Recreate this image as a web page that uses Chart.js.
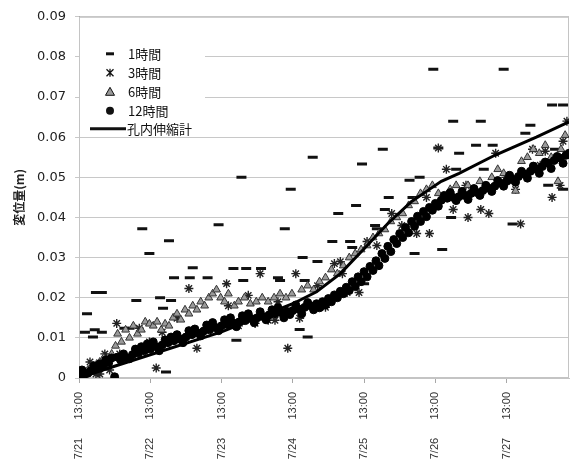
<!DOCTYPE html>
<html>
<head>
<meta charset="utf-8">
<script src="https://cdn.jsdelivr.net/npm/chart.js"></script>
<style>
  html, body { margin: 0; padding: 0; background: #fff; overflow: hidden; }
</style>
</head>
<body>
<canvas id="myChart" width="577" height="470"></canvas>
<script>
// hours counted from 7/21 13:00
const tickHours = [0, 24, 48, 72, 96, 120, 144];
const tickLabels = ['7/21      13:00', '7/22      13:00', '7/23      13:00', '7/24      13:00', '7/25      13:00', '7/26      13:00', '7/27      13:00'];
const seriesNames = ['1時間', '3時間', '6時間', '12時間', '孔内伸縮計'];

// 1時間
const h1 = [2.0, 2.7, 4.7, 5.3, 5.7, 7.7, 7.7, 15.3, 17.0, 19.3, 21.3, 23.7, 27.3, 28.3, 29.3, 30.3, 31.0, 32.0, 37.3, 38.3,
  43.3, 47.0, 52.0, 53.0, 54.7, 55.3, 56.3, 61.3, 67.0, 67.7, 69.3, 71.3, 74.3, 75.3, 76.0, 77.0, 78.7, 80.3, 85.3, 87.3,
  91.3, 92.0, 93.3, 95.3, 96.0, 99.7, 100.3, 102.3, 103.0, 104.3, 111.3, 112.3, 113.0, 114.7, 119.3, 121.0, 122.3, 125.3, 126.0, 127.0,
  128.0, 133.7, 135.3, 136.3, 139.3, 143.0, 146.0, 150.3, 152.0, 158.0, 159.3, 160.3, 163.0, 163.0];
const v1 = [0.0114, 0.016, 0.0102, 0.012, 0.0213, 0.0213, 0.0114, 0.0124, 0.0124, 0.0193, 0.0372, 0.031, 0.020, 0.0174, 0.0015, 0.0342, 0.0193, 0.025, 0.025, 0.0275,
  0.025, 0.0382, 0.0273, 0.0094, 0.050, 0.0243, 0.0273, 0.0273, 0.025, 0.0243, 0.0372, 0.047, 0.0121, 0.030, 0.0243, 0.0102, 0.055, 0.029, 0.034, 0.041,
  0.034, 0.0325, 0.043, 0.0533, 0.0235, 0.038, 0.0372, 0.057, 0.042, 0.045, 0.0493, 0.045, 0.031, 0.050, 0.0769, 0.0573, 0.032, 0.040, 0.064, 0.052,
  0.056, 0.058, 0.064, 0.052, 0.058, 0.0769, 0.0384, 0.061, 0.063, 0.048, 0.068, 0.057, 0.068, 0.047];

// 3時間
const h3 = [3.7, 4.7, 5.7, 7.0, 8.7, 9.3, 10.3, 12.7, 13.7, 20.3, 23.7, 26.0, 28.0, 33.0, 37.0, 39.7, 43.7, 49.7, 50.3, 53.7,
  57.0, 59.3, 61.0, 63.7, 66.0, 67.0, 70.3, 73.0, 74.3, 80.3, 83.0, 86.0, 88.0, 88.7, 90.3, 94.3, 97.0, 100.3, 105.3, 108.7,
  113.7, 117.0, 118.0, 121.0, 123.7, 126.0, 130.3, 131.0, 135.3, 138.0, 140.3, 143.7, 147.0, 148.7, 152.7, 155.3, 157.0, 159.3, 162.0, 163.0, 164.3];
const v3 = [0.004, 0.003, 0.001, 0.001, 0.006, 0.005, 0.002, 0.0136, 0.006, 0.0124, 0.009, 0.0025, 0.0114, 0.0149, 0.0223, 0.0074, 0.013, 0.0235, 0.018, 0.013,
  0.0206, 0.0136, 0.026, 0.0144, 0.0144, 0.019, 0.0074, 0.026, 0.0149, 0.023, 0.0176, 0.0285, 0.029, 0.026, 0.0213, 0.0213, 0.034, 0.033, 0.041, 0.038,
  0.036, 0.045, 0.036, 0.0573, 0.052, 0.042, 0.048, 0.040, 0.042, 0.041, 0.056, 0.050, 0.047, 0.0384, 0.057, 0.053, 0.0565, 0.045, 0.048, 0.059, 0.064];

// 6時間
const h6 = [1.3, 3.0, 4.3, 6.0, 7.0, 8.3, 9.7, 11.0, 12.3, 13.0, 14.3, 15.7, 17.0, 18.3, 19.7, 21.0, 22.3, 23.7, 25.0, 26.3,
  27.7, 29.0, 30.3, 31.7, 33.0, 34.3, 35.7, 37.0, 38.3, 39.7, 41.0, 42.3, 43.7, 45.0, 46.3, 47.7, 49.0, 50.3, 52.3, 53.7,
  55.7, 57.7, 59.7, 61.7, 63.7, 65.7, 67.7, 69.7, 71.7, 73.0, 75.0, 77.0, 79.0, 81.0, 83.0, 85.0, 87.0, 89.0, 91.0, 93.0,
  95.0, 97.0, 99.0, 101.0, 103.0, 105.0, 107.0, 109.0, 111.0, 113.0, 115.0, 117.0, 119.0, 121.0, 123.0, 125.0, 127.0, 129.0, 131.0, 133.0,
  135.0, 137.0, 139.0, 141.0, 143.0, 145.0, 147.0, 149.0, 151.0, 153.0, 155.0, 157.0, 159.0, 161.3, 162.3, 163.7];
const v6 = [0.001, 0.002, 0.003, 0.0035, 0.004, 0.005, 0.004, 0.006, 0.008, 0.011, 0.009, 0.012, 0.010, 0.013, 0.011, 0.012, 0.014, 0.0135, 0.013, 0.014,
  0.012, 0.0135, 0.013, 0.015, 0.016, 0.0145, 0.017, 0.016, 0.018, 0.017, 0.019, 0.018, 0.020, 0.021, 0.022, 0.020, 0.019, 0.021, 0.018, 0.019,
  0.020, 0.0185, 0.019, 0.020, 0.019, 0.020, 0.021, 0.020, 0.021, 0.0175, 0.022, 0.023, 0.022, 0.024, 0.025, 0.027, 0.026, 0.028, 0.030, 0.031,
  0.032, 0.033, 0.035, 0.036, 0.037, 0.039, 0.040, 0.041, 0.043, 0.044, 0.046, 0.047, 0.048, 0.046, 0.045, 0.047, 0.048, 0.046, 0.048, 0.047,
  0.049, 0.047, 0.050, 0.052, 0.051, 0.049, 0.0466, 0.054, 0.055, 0.057, 0.056, 0.058, 0.055, 0.049, 0.057, 0.0605];

// 12時間
const h12 = [0, 1, 2, 3, 4, 5, 6, 7, 8, 9, 10, 11, 12, 13, 14, 15, 16, 17, 18, 19, 20, 21, 22, 23, 24, 25, 26, 27, 28, 29,
  30, 31, 32, 33, 34, 35, 36, 37, 38, 39, 40, 41, 42, 43, 44, 45, 46, 47, 48, 49, 50, 51, 52, 53, 54, 55, 56, 57, 58, 59,
  60, 61, 62, 63, 64, 65, 66, 67, 68, 69, 70, 71, 72, 73, 74, 75, 76, 77, 78, 79, 80, 81, 82, 83, 84, 85, 86, 87, 88, 89,
  90, 91, 92, 93, 94, 95, 96, 97, 98, 99, 100, 101, 102, 103, 104, 105, 106, 107, 108, 109, 110, 111, 112, 113, 114, 115, 116, 117, 118, 119,
  120, 121, 122, 123, 124, 125, 126, 127, 128, 129, 130, 131, 132, 133, 134, 135, 136, 137, 138, 139, 140, 141, 142, 143, 144, 145, 146, 147, 148, 149,
  150, 151, 152, 153, 154, 155, 156, 157, 158, 159, 160, 161, 162, 163, 164, 165];
const v12 = [0.0005, 0.002, 0.001, 0.0012, 0.0018, 0.003, 0.0025, 0.0035, 0.003, 0.0045, 0.0038, 0.005, 0.0003, 0.0052, 0.0045, 0.006, 0.005, 0.0048, 0.0058, 0.0072,
  0.0062, 0.0078, 0.0068, 0.0085, 0.0072, 0.009, 0.0078, 0.0068, 0.0082, 0.0095, 0.0088, 0.0102, 0.0093, 0.0108, 0.0097, 0.0088, 0.0102, 0.0118, 0.0108, 0.0122,
  0.0112, 0.0105, 0.0117, 0.0132, 0.012, 0.0138, 0.0126, 0.0118, 0.013, 0.0145, 0.0133, 0.015, 0.0137, 0.0128, 0.014, 0.0155, 0.0143, 0.016, 0.0148, 0.0138,
  0.015, 0.0165, 0.0153, 0.0145, 0.0157, 0.017, 0.016, 0.0175, 0.0163, 0.015, 0.0166, 0.0158, 0.0168, 0.0182, 0.0172, 0.016, 0.0176, 0.0188, 0.018, 0.017,
  0.0185, 0.0175, 0.019, 0.0182, 0.0198, 0.019, 0.0207, 0.020, 0.0216, 0.021, 0.0226, 0.0218, 0.024, 0.0228, 0.0252, 0.024, 0.0265, 0.0252, 0.0278, 0.0268,
  0.0292, 0.028, 0.031, 0.0298, 0.0328, 0.0315, 0.0345, 0.0335, 0.036, 0.035, 0.0375, 0.0362, 0.039, 0.0378, 0.0403, 0.039, 0.0415, 0.0402, 0.0425, 0.0418,
  0.0435, 0.0428, 0.0443, 0.0455, 0.0448, 0.0462, 0.045, 0.0442, 0.0452, 0.0465, 0.0455, 0.0445, 0.046, 0.0472, 0.0462, 0.0455, 0.0467, 0.048, 0.0473, 0.0465,
  0.0478, 0.0492, 0.0485, 0.0478, 0.049, 0.0505, 0.0495, 0.0488, 0.0502, 0.0515, 0.0508, 0.0498, 0.0515, 0.0528, 0.052, 0.051, 0.0527, 0.0538, 0.0535, 0.0522,
  0.0542, 0.0552, 0.0548, 0.0535, 0.0555, 0.056];

// 孔内伸縮計
const hLine = [0, 8, 24, 48, 72, 80, 88, 96, 104, 112, 118, 122, 128, 140, 154, 165];
const vLine = [0, 0.002, 0.0058, 0.0115, 0.0185, 0.0215, 0.026, 0.0322, 0.0385, 0.044, 0.047, 0.049, 0.051, 0.0555, 0.060, 0.0638];

const pts = (hs, vs) => hs.map((h, i) => ({ x: h, y: vs[i] }));

Chart.defaults.font.family = "'Liberation Sans', Arial, sans-serif";
Chart.defaults.color = '#222';

// frame around the plot and the legend box in the upper left corner
const framePlugin = {
    id: 'framePlugin',
    beforeDatasetsDraw(chart) {
        const a = chart.chartArea, c = chart.ctx;
        c.save();
        c.strokeStyle = '#c4c4c4';
        c.lineWidth = 1;
        c.strokeRect(a.left + 0.5, a.top + 0.5, a.right - a.left - 1, a.bottom - a.top - 1);
        c.restore();
    },
    afterDatasetsDraw(chart) {
        const a = chart.chartArea, c = chart.ctx;
        const x0 = a.left + 1, y0 = a.top + 16;
        c.save();
        c.fillStyle = '#fff';
        c.fillRect(x0, y0, 125, 101);
        c.fillStyle = '#111';
        c.strokeStyle = '#111';
        c.font = "13px 'Noto Sans CJK JP'";
        c.textBaseline = 'middle';
        const mx = a.left + 31, tx = a.left + 49;
        const rows = [a.top + 37, a.top + 56, a.top + 75, a.top + 94, a.top + 112];
        // dash
        c.lineWidth = 3;
        c.beginPath(); c.moveTo(mx - 4, rows[0]); c.lineTo(mx + 4, rows[0]); c.stroke();
        // asterisk
        c.lineWidth = 1.3;
        c.beginPath();
        c.moveTo(mx - 3.5, rows[1] - 3.5); c.lineTo(mx + 3.5, rows[1] + 3.5);
        c.moveTo(mx + 3.5, rows[1] - 3.5); c.lineTo(mx - 3.5, rows[1] + 3.5);
        c.moveTo(mx, rows[1] - 4); c.lineTo(mx, rows[1] + 4);
        c.stroke();
        // triangle
        c.fillStyle = '#999';
        c.beginPath();
        c.moveTo(mx, rows[2] - 4.5); c.lineTo(mx + 4.5, rows[2] + 3.5); c.lineTo(mx - 4.5, rows[2] + 3.5); c.closePath();
        c.fill(); c.lineWidth = 1; c.stroke();
        // circle
        c.fillStyle = '#111';
        c.beginPath(); c.arc(mx, rows[3], 4, 0, Math.PI * 2); c.fill();
        // line
        c.lineWidth = 3;
        c.beginPath(); c.moveTo(a.left + 11, rows[4]); c.lineTo(a.left + 47, rows[4]); c.stroke();
        for (let i = 0; i < 4; i++) {
            c.fillText(seriesNames[i], tx, rows[i]);
        }
        c.fillText(seriesNames[4], a.left + 48, rows[4]);
        c.restore();
    }
};

const ctx = document.getElementById('myChart');
const myChart = new Chart(ctx, {
    type: 'scatter',
    data: {
        datasets: [
            {
                label: seriesNames[0], data: pts(h1, v1), order: 4,
                pointStyle: 'line', pointRadius: 5, borderWidth: 3,
                borderColor: '#111', backgroundColor: '#111'
            },
            {
                label: seriesNames[1], data: pts(h3, v3), order: 3,
                pointStyle: 'star', pointRadius: 4.5, borderWidth: 1.4,
                borderColor: '#222', backgroundColor: '#222'
            },
            {
                label: seriesNames[2], data: pts(h6, v6), order: 2,
                pointStyle: 'triangle', pointRadius: 4.5, borderWidth: 1,
                borderColor: '#333', backgroundColor: '#9a9a9a'
            },
            {
                label: seriesNames[3], data: pts(h12, v12), order: 1,
                pointStyle: 'circle', pointRadius: 4, borderWidth: 1,
                borderColor: '#000', backgroundColor: '#000'
            },
            {
                label: seriesNames[4], data: pts(hLine, vLine), order: 0,
                showLine: true, pointRadius: 0, borderWidth: 3,
                borderColor: '#000', backgroundColor: '#000'
            }
        ]
    },
    options: {
        responsive: false,
        animation: false,
        layout: { padding: { top: 15, right: 4, left: 0, bottom: 0 } },
        plugins: { legend: { display: false }, tooltip: { enabled: false } },
        scales: {
            x: {
                type: 'linear',
                min: 0,
                max: 165,
                afterBuildTicks: (scale) => { scale.ticks = tickHours.map(v => ({ value: v })); },
                afterFit: (scale) => { scale.height = 92; },
                grid: { drawOnChartArea: false, drawTicks: true, tickLength: 5, color: '#a8a8a8' },
                border: { color: '#c4c4c4' },
                ticks: {
                    autoSkip: false,
                    minRotation: 90,
                    maxRotation: 90,
                    padding: 9,
                    color: '#333',
                    font: { size: 11 },
                    callback: (value) => tickLabels[tickHours.indexOf(value)]
                }
            },
            y: {
                min: 0,
                max: 0.09,
                afterFit: (scale) => { scale.width = 79; },
                grid: { color: '#c8c8c8', lineWidth: 1, tickLength: 4 },
                border: { color: '#a8a8a8' },
                title: {
                    display: true,
                    text: '変位量(m)',
                    color: '#222',
                    font: { family: "'Noto Sans CJK JP'", size: 12, weight: 'bold' },
                    padding: { top: 12, bottom: 0 }
                },
                ticks: {
                    stepSize: 0.01,
                    padding: 9,
                    color: '#222',
                    font: { family: "'DejaVu Sans'", size: 13 },
                    callback: (value) => value === 0 ? '0' : value.toFixed(2)
                }
            }
        }
    },
    plugins: [framePlugin]
});
</script>
</body>
</html>
